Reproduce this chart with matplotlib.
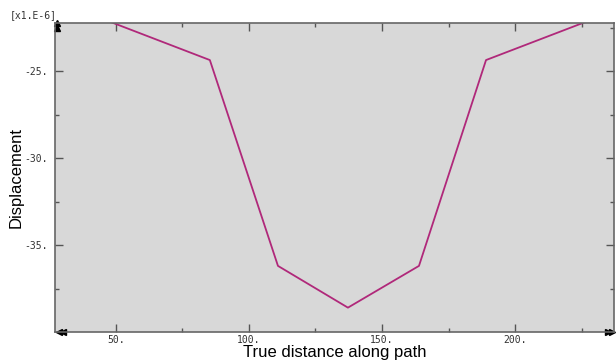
import matplotlib.pyplot as plt
import numpy as np

# path data (displacement in 1e-6 units)
dist = [33.0, 85.3, 110.9, 137.2, 163.9, 189.1, 241.5]
disp = [-21.3, -24.37, -36.2, -38.6, -36.2, -24.37, -21.3]

xticks = [50, 100, 150, 200]
xlabels = ["50.", "100.", "150.", "200."]
yticks = [-25, -30, -35]
ylabels = ["-25.", "-30.", "-35."]

fig = plt.figure(figsize=(6.16, 3.6), dpi=100)
ax = fig.add_axes([55/616, 28/360, 559/616, 309/360])
ax.set_facecolor("#d8d8d8")

ax.plot(dist, disp, color="#b0287a", lw=1.3)

ax.set_xlim(27.1, 237.2)
ax.set_ylim(-40.0, -22.24)

ax.set_xticks(xticks)
ax.set_xticklabels(xlabels)
ax.set_xticks([75, 125, 175, 225], minor=True)
ax.set_yticks(yticks)
ax.set_yticklabels(ylabels)
ax.set_yticks([-22.5, -27.5, -32.5, -37.5], minor=True)

mono = "DejaVu Sans Mono"
for lab in ax.get_xticklabels() + ax.get_yticklabels():
    lab.set_family(mono)
    lab.set_fontsize(7)
    lab.set_color("#333333")

ax.tick_params(which="both", direction="in", top=True, right=True,
               color="#555555", width=1)
ax.tick_params(which="major", length=6)
ax.tick_params(axis="x", which="major", pad=2)
ax.tick_params(axis="y", which="major", pad=5)
ax.tick_params(which="minor", length=3)

for s in ax.spines.values():
    s.set_color("#666666")
    s.set_linewidth(1.2)

# axis end arrows
ax.plot([0.003], [1.0], marker="^", color="black", ms=4, transform=ax.transAxes, clip_on=False)
ax.plot([0.003], [0.985], marker="^", color="black", ms=4, transform=ax.transAxes, clip_on=False)
ax.plot([0.008, 0.014], [0.0, 0.0], marker="<", color="black", ms=4, ls="none",
        transform=ax.transAxes, clip_on=False)
ax.plot([0.99, 0.996], [0.0, 0.0], marker=">", color="black", ms=4, ls="none",
        transform=ax.transAxes, clip_on=False)

ax.set_xlabel("True distance along path", family="Liberation Sans", fontsize=12, labelpad=0)
ax.set_ylabel("Displacement", family="Liberation Sans", fontsize=12, labelpad=1)
fig.text(10/616, 1 - 15/360, "[x1.E-6]", family=mono, fontsize=7, color="#333333", va="center")

fig.savefig("out.png", dpi=100)
